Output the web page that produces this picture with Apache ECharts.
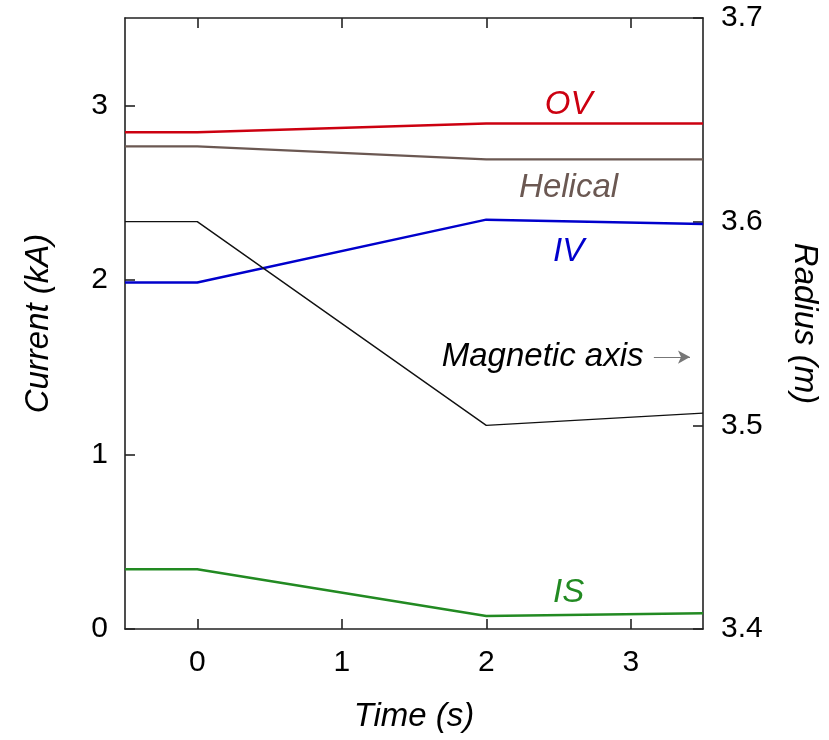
<!DOCTYPE html>
<html><head><meta charset="utf-8">
<script src="https://cdn.jsdelivr.net/npm/echarts@6/dist/echarts.min.js"></script>
<style>html,body{margin:0;padding:0;background:#fff}#c{width:829px;height:740px}</style>
</head><body><div id="c"></div>
<script>
// ---- data ----
const time = [-0.5, 0, 2, 3.5];
const ovCurrent = [2.845, 2.845, 2.895, 2.895];
const helicalCurrent = [2.765, 2.765, 2.69, 2.69];
const ivCurrent = [1.985, 1.985, 2.345, 2.32];
const isCurrent = [0.342, 0.342, 0.075, 0.09];
const magAxisRadius = [3.6, 3.6, 3.5, 3.506];
const timeTicks = [0, 1, 2, 3];
const currentTicks = [0, 1, 2, 3];
const radiusTicks = [3.4, 3.5, 3.6, 3.7];
const seriesNames = ['OV', 'Helical', 'IV', 'IS', 'Magnetic axis'];
// label anchors (data coords)
const labelAnchors = {
  'OV': [2.57, 3.0],
  'Helical': [2.57, 2.53],
  'IV': [2.57, 2.163],
  'IS': [2.57, 0.21],
  'Magnetic axis': [2.39, 3.5335]
};
const arrowFrom = [3.16, 3.5335];
const arrowTo = [3.41, 3.5335];

const FONT = '"Liberation Sans", Arimo, Helvetica, Arial, sans-serif';
const AXIS_COLOR = '#222';
const colors = { 'OV': '#cc0010', 'Helical': '#6b5852', 'IV': '#0000cc', 'IS': '#228a22', 'Magnetic axis': '#111' };
const widths = { 'OV': 2.5, 'Helical': 2.2, 'IV': 2.5, 'IS': 2.5, 'Magnetic axis': 1.4 };
const values = { 'OV': ovCurrent, 'Helical': helicalCurrent, 'IV': ivCurrent, 'IS': isCurrent, 'Magnetic axis': magAxisRadius };

const chart = echarts.init(document.getElementById('c'), null, { renderer: 'canvas' });

function mkSeries(name) {
  const isMag = name === 'Magnetic axis';
  const s = {
    name, type: 'line', yAxisIndex: isMag ? 1 : 0,
    data: time.map((t, i) => [t, values[name][i]]),
    showSymbol: false, symbol: 'none', animation: false,
    lineStyle: { color: colors[name], width: widths[name] },
    markPoint: {
      symbol: 'circle', symbolSize: 0, animation: false,
      label: {
        show: true, position: 'inside', formatter: name,
        fontFamily: FONT, fontStyle: 'italic', fontSize: 33,
        color: isMag ? '#000' : colors[name]
      },
      data: [{ coord: labelAnchors[name] }]
    }
  };
  if (isMag) {
    s.markLine = {
      silent: true, animation: false,
      symbol: ['none', 'arrow'], symbolSize: [10, 12],
      lineStyle: { color: '#777', width: 1.2, type: 'solid' },
      label: { show: false },
      data: [[{ coord: arrowFrom }, { coord: arrowTo }]]
    };
  }
  return s;
}

const tickLabel = { fontFamily: FONT, fontSize: 30, color: '#000' };
const nameStyle = { fontFamily: FONT, fontSize: 33, fontStyle: 'italic', color: '#000' };

chart.setOption({
  backgroundColor: '#fff',
  animation: false,
  grid: { left: 125, right: 125, top: 18, bottom: 111, containLabel: false },
  xAxis: [{
    type: 'value', min: -0.5, max: 3.5, position: 'bottom',
    name: 'Time (s)', nameLocation: 'middle', nameGap: 71, nameTextStyle: nameStyle,
    axisLine: { show: true, onZero: false, lineStyle: { color: AXIS_COLOR, width: 1.6 } },
    axisTick: { show: true, inside: true, length: 10, customValues: timeTicks, lineStyle: { color: AXIS_COLOR, width: 1.6 } },
    axisLabel: { show: true, customValues: timeTicks, margin: 19, ...tickLabel },
    splitLine: { show: false }
  }, {
    type: 'value', min: -0.5, max: 3.5, position: 'top',
    axisLine: { show: true, onZero: false, lineStyle: { color: AXIS_COLOR, width: 1.6 } },
    axisTick: { show: true, inside: true, length: 10, customValues: timeTicks, lineStyle: { color: AXIS_COLOR, width: 1.6 } },
    axisLabel: { show: false },
    splitLine: { show: false }
  }],
  yAxis: [{
    type: 'value', min: 0, max: 3.5, position: 'left',
    name: 'Current (kA)', nameLocation: 'middle', nameGap: 70, nameTextStyle: nameStyle,
    axisLine: { show: true, onZero: false, lineStyle: { color: AXIS_COLOR, width: 1.6 } },
    axisTick: { show: true, inside: true, length: 10, customValues: currentTicks, lineStyle: { color: AXIS_COLOR, width: 1.6 } },
    axisLabel: { show: true, customValues: currentTicks, margin: 17, ...tickLabel },
    splitLine: { show: false }
  }, {
    type: 'value', min: 3.4, max: 3.7, position: 'right',
    name: 'Radius (m)', nameLocation: 'middle', nameGap: 85, nameRotate: -90, nameTextStyle: nameStyle,
    axisLine: { show: true, onZero: false, lineStyle: { color: AXIS_COLOR, width: 1.6 } },
    axisTick: { show: true, inside: true, length: 10, customValues: radiusTicks, lineStyle: { color: AXIS_COLOR, width: 1.6 } },
    axisLabel: { show: true, customValues: radiusTicks, margin: 18, formatter: v => v.toFixed(1), ...tickLabel },
    splitLine: { show: false }
  }],
  series: seriesNames.map(mkSeries)
});
</script>
</body></html>
